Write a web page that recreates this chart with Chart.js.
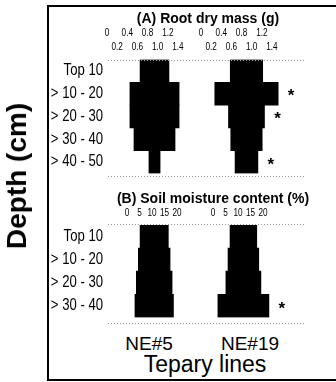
<!DOCTYPE html>
<html><head><meta charset="utf-8">
<script src="https://cdn.jsdelivr.net/npm/chart.js@4.4.1/dist/chart.umd.min.js"></script>
<style>
html,body{margin:0;padding:0;background:#fff;}
body{width:336px;height:382px;position:relative;overflow:hidden;font-family:'Liberation Sans',Arial,sans-serif;}
#frame{position:absolute;left:47px;top:5px;width:300px;height:372px;border-left:2px solid #000;border-top:2px solid #000;border-bottom:2px solid #000;}
canvas{position:absolute;}
#cA{left:0;top:0;}
#cB{left:0;top:186px;}
.lbl{position:absolute;white-space:nowrap;color:#000;line-height:1;}
</style></head>
<body>
<div id="frame"></div>
<canvas id="cA" width="416" height="186"></canvas>
<canvas id="cB" width="426" height="144"></canvas>
<div class="lbl" style="left:17px;top:176px;font-size:28px;font-weight:bold;transform:translate(-50%,-50%) rotate(-90deg);">Depth (cm)</div>
<div class="lbl" style="left:149px;top:334px;font-size:19px;transform:translateX(-50%);">NE#5</div>
<div class="lbl" style="left:250px;top:334px;font-size:19px;transform:translateX(-50%);">NE#19</div>
<div class="lbl" style="left:205px;top:353px;font-size:23px;transform:translateX(-50%);">Tepary lines</div>
<script>
// ---- data ----
const depthA = ['Top 10', '> 10 - 20', '> 20 - 30', '> 30 - 40', '> 40 - 50'];
const depthB = ['Top 10', '> 10 - 20', '> 20 - 30', '> 30 - 40'];
const lines = ['NE#5', 'NE#19'];
const massNE5  = [0.57, 0.97, 0.97, 0.81, 0.22];
const massNE19 = [0.64, 1.25, 0.71, 0.62, 0.45];
const massSigNE19 = [false, true, true, false, true];
const moistNE5  = [11.3, 12.7, 14.3, 15.4];
const moistNE19 = [10.7, 12.3, 14.0, 20.4];
const moistSigNE19 = [false, false, false, true];
const massTickVals = [0, 0.2, 0.4, 0.6, 0.8, 1.0, 1.2, 1.4];
const massTickLabels = ['0', '0.2', '0.4', '0.6', '0.8', '1.0', '1.2', '1.4'];
const moistTickVals = [0, 5, 10, 15, 20];
const moistTickLabels = ['0', '5', '10', '15', '20'];

// ---- layout (scale units) ----
const layoutA = { min: -0.0197, max: 4.201, centers: [0.937, 2.751], tickOffsets: [0, 1.854] };
const layoutB = { min: -8.4, max: 77.2, centers: [10.88, 46.56], tickOffsets: [0, 34.4] };

const ARIAL = "'Liberation Sans',Arial,sans-serif";
const NARROW_K = 0.82; // emulate a narrow (condensed) face

function kite(values, c) { return values.map(v => [c - v / 2, c + v / 2]); }

// draw a scale's tick labels horizontally condensed (each label scaled about its own anchor)
function narrowLabels(s, k) {
  if (s._narrowed) return;
  s._narrowed = true;
  const orig = s.drawLabels;
  s.drawLabels = function (area) {
    const ctx = this.ctx;
    const r = ctx.rotate;
    ctx.rotate = function (a) { r.call(this, a); this.scale(k, 1); };
    try { orig.call(this, area); } finally { ctx.rotate = r; }
  };
}

const kitePlugin = {
  id: 'kite',
  afterDatasetsDraw(chart, args, opts) {
    const ctx = chart.ctx, a = chart.chartArea;
    ctx.save();
    ctx.strokeStyle = '#9a9a9a'; ctx.lineWidth = 1; ctx.setLineDash([1, 2]);
    [a.top + opts.topGap, a.bottom + opts.bottomGap].forEach(y => {
      const yy = Math.round(y) + 0.5;
      ctx.beginPath(); ctx.moveTo(a.left + 2, yy); ctx.lineTo(a.right - 15, yy); ctx.stroke();
    });
    ctx.setLineDash([]);
    ctx.fillStyle = '#000';
    ctx.font = 'bold 17px ' + ARIAL;
    ctx.textAlign = 'center'; ctx.textBaseline = 'middle';
    chart.data.datasets.forEach((ds, i) => {
      if (!ds.sig) return;
      chart.getDatasetMeta(i).data.forEach((el, j) => {
        if (ds.sig[j]) ctx.fillText('*', Math.max(el.x, el.base) + 13, el.y + 3);
      });
    });
    ctx.restore();
  }
};

function makeChart(id, cats, s1, s2, sig, lay, tVals, tLabels, stagger, titleText, titleTop, axisH, tickPad, rightW, padBottom, gaps) {
  const n = tVals.length;
  return new Chart(document.getElementById(id), {
    type: 'bar',
    data: {
      labels: cats,
      datasets: [
        { label: lines[0], data: kite(s1, lay.centers[0]), backgroundColor: '#000', borderWidth: 0, borderSkipped: false, grouped: false, barPercentage: 1, categoryPercentage: 1 },
        { label: lines[1], data: kite(s2, lay.centers[1]), sig: sig, backgroundColor: '#000', borderWidth: 0, borderSkipped: false, grouped: false, barPercentage: 1, categoryPercentage: 1 }
      ]
    },
    options: {
      indexAxis: 'y',
      responsive: false,
      animation: false,
      devicePixelRatio: 1,
      layout: { padding: { left: 0, top: 0, right: 0, bottom: padBottom } },
      plugins: {
        legend: { display: false },
        tooltip: { enabled: false },
        title: { display: true, text: titleText, color: '#000', font: { family: ARIAL, size: 14, weight: 'bold', lineHeight: 1.2 }, padding: { top: titleTop, bottom: 0 } },
        kite: gaps
      },
      scales: {
        x: {
          type: 'linear', position: 'top', min: lay.min, max: lay.max,
          grid: { display: false, drawTicks: false }, border: { display: false },
          afterBuildTicks: s => {
            const t = [];
            lay.tickOffsets.forEach(o => tVals.forEach(v => t.push({ value: o + v })));
            s.ticks = t;
          },
          afterFit: s => { s.height = axisH; narrowLabels(s, NARROW_K); },
          ticks: {
            autoSkip: false, maxRotation: 0, minRotation: 0, padding: tickPad, color: '#000',
            font: { family: ARIAL, size: 10, lineHeight: 1.4 },
            callback: (v, i) => {
              const k = i % n, lab = tLabels[k];
              if (!stagger) return lab;
              return k % 2 === 0 ? [lab, ''] : ['', lab];
            }
          }
        },
        y: {
          type: 'category', position: 'left',
          grid: { display: false, drawTicks: false }, border: { display: false },
          afterFit: s => { s.width = 106; narrowLabels(s, NARROW_K); },
          ticks: { color: '#000', padding: 3, font: { family: ARIAL, size: 16 } }
        },
        yr: {
          type: 'category', position: 'right', display: true,
          grid: { display: false, drawTicks: false }, border: { display: false },
          ticks: { display: false },
          afterFit: s => { s.width = rightW; }
        }
      }
    },
    plugins: [kitePlugin]
  });
}

makeChart('cA', depthA, massNE5, massNE19, massSigNE19, layoutA, massTickVals, massTickLabels, true,
  '(A) Root dry mass (g)', 10.6, 32.1, 5.5, 96, 4, { topGap: 0, bottomGap: 3 });
makeChart('cB', depthB, moistNE5, moistNE19, moistSigNE19, layoutB, moistTickVals, moistTickLabels, false,
  '(B) Soil moisture content (%)', 4.6, 17.6, 5, 106, 7, { topGap: -1, bottomGap: 6 });
</script>
</body></html>
